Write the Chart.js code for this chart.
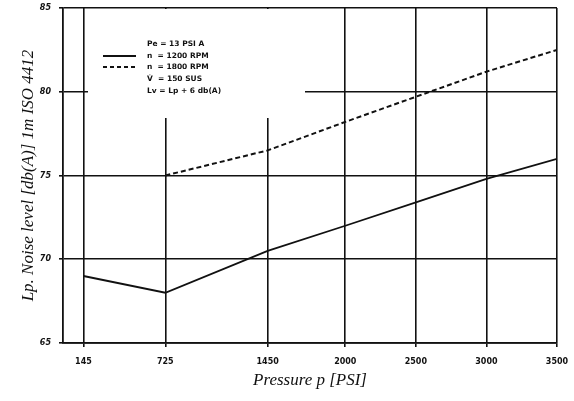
<!DOCTYPE html>
<html>
<head>
<meta charset="utf-8">
<script src="https://cdn.jsdelivr.net/npm/chart.js@4"></script>
<style>
  html, body { margin: 0; padding: 0; background: #fff; }
  #wrap { width: 574px; height: 401px; }
</style>
</head>
<body>
<div id="wrap"><canvas id="myChart" width="574" height="401"></canvas></div>
<script>
// pressure ticks shown on the x axis
let pressureTicks = [145, 725, 1450, 2000, 2500, 3000, 3500];

// n = 1200 RPM
let press1200 = [145, 725, 1450, 2000, 2500, 3000, 3500];
let noise1200 = [69, 68, 70.5, 72, 73.4, 74.8, 76];

// n = 1800 RPM
let press1800 = [725, 1450, 2000, 2500, 3000, 3500];
let noise1800 = [75, 76.5, 78.2, 79.7, 81.2, 82.5];

let legendLines = [
  "Pe = 13 PSI A",
  "n  = 1200 RPM",
  "n  = 1800 RPM",
  "V\u0307  = 150 SUS",
  "Lv = Lp + 6 db(A)"
];

toPoints = (xs, ys) => xs.map((x, i) => ({ x: x, y: ys[i] }));

// white box with the notes, drawn over the grid
let notesBox = {
  id: "notesBox",
  beforeDatasetsDraw: (chart) => {
    let ctx = chart.ctx;
    ctx.save();
    ctx.fillStyle = "#fff";
    ctx.fillRect(88, 9, 217, 109);
    ctx.fillStyle = "#111";
    ctx.font = "bold 7.5px 'DejaVu Sans'";
    ctx.textBaseline = "middle";
    let rows = [44, 56, 67, 79, 91];
    legendLines.forEach((t, i) => ctx.fillText(t, 147, rows[i]));
    ctx.strokeStyle = "#111";
    ctx.lineWidth = 1.8;
    ctx.beginPath();
    ctx.moveTo(103, 56);
    ctx.lineTo(136, 56);
    ctx.stroke();
    ctx.setLineDash([4, 3]);
    ctx.beginPath();
    ctx.moveTo(103, 67);
    ctx.lineTo(136, 67);
    ctx.stroke();
    ctx.restore();
  },
};

let ctx = document.getElementById("myChart").getContext("2d");
let chart = new Chart(ctx, {
  type: "line",
  data: {
    datasets: [
      {
        label: "n = 1200 RPM",
        data: toPoints(press1200, noise1200),
        borderColor: "#111",
        borderWidth: 1.8,
        pointRadius: 0,
        tension: 0,
      },
      {
        label: "n = 1800 RPM",
        data: toPoints(press1800, noise1800),
        borderColor: "#111",
        borderWidth: 2,
        borderDash: [5, 3],
        pointRadius: 0,
        tension: 0,
      },
    ],
  },
  options: {
    responsive: false,
    animation: false,
    layout: { padding: { top: 8, right: 17, left: 0, bottom: 0 } },
    plugins: {
      legend: { display: false },
      tooltip: { enabled: false },
    },
    scales: {
      x: {
        type: "linear",
        min: 0,
        max: 3500,
        afterBuildTicks: (axis) => {
          axis.ticks = pressureTicks.map((v) => ({ value: v }));
        },
        afterFit: (axis) => {
          axis.height = 58;
          axis.paddingLeft = 0;
          axis.paddingRight = 0;
        },
        grid: { color: "#111", lineWidth: 1.6, drawTicks: true, tickLength: 4 },
        border: { color: "#111", width: 1.8 },
        ticks: {
          color: "#111",
          font: { family: "'DejaVu Sans'", size: 8, weight: "bold" },
          padding: 10,
          maxRotation: 0,
          autoSkip: false,
          callback: (v) => String(v),
        },
        title: {
          display: true,
          text: "Pressure p [PSI]",
          color: "#111",
          font: { family: "'Liberation Serif'", size: 17, style: "italic" },
          padding: { top: 0, bottom: 10 },
        },
      },
      y: {
        min: 65,
        max: 85,
        afterFit: (axis) => {
          axis.width = 63;
          axis.paddingTop = 0;
          axis.paddingBottom = 0;
        },
        grid: { color: "#111", lineWidth: 1.6, drawTicks: true, tickLength: 4 },
        border: { color: "#111", width: 1.8 },
        ticks: {
          stepSize: 5,
          color: "#111",
          font: { family: "'DejaVu Sans'", size: 8, weight: "bold", style: "italic" },
          padding: 8,
        },
        title: {
          display: true,
          text: "Lp. Noise level [db(A)] 1m ISO 4412",
          color: "#111",
          font: { family: "'Liberation Serif'", size: 17, style: "italic" },
          padding: { top: 18, bottom: 4 },
        },
      },
    },
  },
  plugins: [notesBox],
});
</script>
</body>
</html>
